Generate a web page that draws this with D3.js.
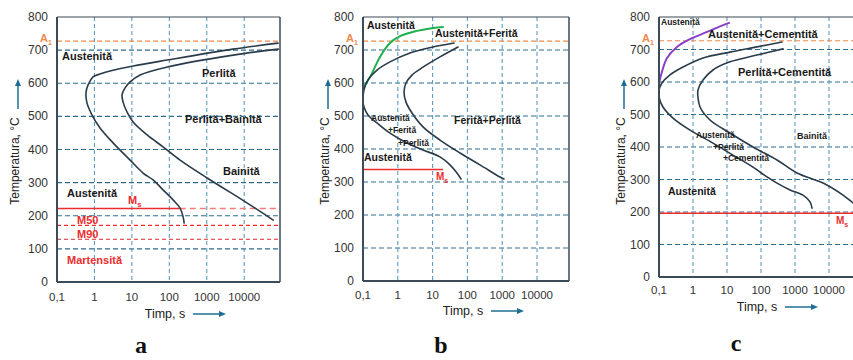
<!DOCTYPE html>
<html><head><meta charset="utf-8">
<script src="https://cdn.jsdelivr.net/npm/d3@7"></script>
<style>body{margin:0;background:#fff}svg{display:block}</style>
</head><body>
<svg id="c" width="853" height="360"></svg>
<script>
// ---------- DATA ----------
const timeTicks = [0.1, 1, 10, 100, 1000, 10000];
const timeTickLabels = ["0,1", "1", "10", "100", "1000", "10000"];
const tempTicks = [0, 100, 200, 300, 400, 500, 600, 700, 800];
const gridTemps = [100, 200, 300, 400, 500, 600, 700];
const gridTimes = [1, 10, 100, 1000, 10000];
const A1 = 727;

// panel a (eutectoid steel)
const aStartTime = [80000, 5000, 87, 10.8, 2.6, 1.41, 0.92, 0.675, 0.595, 0.634, 0.863, 1.41, 3.14, 8.95, 19.9, 36.9, 68, 126, 194, 234, 249];
const aStartTemp = [721, 703, 670, 652, 637, 628, 619, 595, 571, 540, 504, 465, 420, 368, 329, 308, 278, 248, 223, 196, 178];
const aEndTime = [81000, 5080, 87, 16.6, 8.95, 6.58, 5.47, 5.82, 7.44, 10.8, 25.5, 68, 194, 1025, 8850, 23700, 59600];
const aEndTemp = [703, 685, 649, 625, 604, 586, 565, 543, 513, 483, 444, 408, 368, 314, 248, 217, 187];
const aMs = 222, aM50 = 171, aM90 = 129, aMsSolidEnd = 190;

// panel b (hypoeutectoid steel)
const bFerriteTime = [0.1, 0.159, 0.308, 0.597, 1.16, 3.56, 10.3, 19.9];
const bFerriteTemp = [585, 618, 679, 721, 742, 758, 767, 770];
const bStartTime = [41.2, 10.3, 2.24, 0.597, 0.252, 0.139, 0.107, 0.1, 0.107, 0.139, 0.252, 0.597, 1.84, 5.3, 16.3, 31.6, 50.2, 65.5];
const bStartTemp = [721, 709, 691, 664, 639, 609, 579, 548, 527, 503, 479, 448, 418, 397, 376, 352, 327, 309];
const bEndTime = [53.7, 16.3, 5.3, 2.56, 1.72, 1.51, 1.72, 2.56, 5.3, 16.3, 61.3, 230, 865, 1127];
const bEndTemp = [709, 679, 648, 624, 600, 573, 542, 509, 467, 427, 388, 352, 315, 309];
const bMs = 338, bMsEnd = 20;

// panel c (hypereutectoid steel)
const cCementiteTime = [0.1, 0.122, 0.172, 0.338, 0.817, 2.58, 7.63, 11.5];
const cCementiteTemp = [597, 631, 674, 708, 732, 754, 775, 782];
const cStartTime = [415, 76.2, 12.2, 1.97, 0.508, 0.211, 0.122, 0.1, 0.1, 0.131, 0.258, 0.817, 3.87, 15, 58.2, 150, 296, 713, 1718, 2760, 3160];
const cStartTemp = [723, 708, 692, 674, 646, 622, 597, 575, 554, 523, 489, 452, 412, 375, 338, 308, 289, 268, 252, 231, 212];
const cEndTime = [444, 76.2, 12.2, 3.87, 1.97, 1.4, 1.4, 1.61, 3.16, 12.2, 58.2, 296, 1145, 6670, 25800, 50800, 160000];
const cEndTemp = [702, 683, 662, 637, 606, 575, 554, 523, 483, 443, 400, 360, 320, 289, 252, 228, 190];
const cMs = 196;

// ---------- DRAW ----------
const svg = d3.select("#c");
const C = {
  axis: "#3b4b57", curve: "#2a3b4a", gridH: "#2f6d8f", gridV: "#5f9cc0",
  red: "#ee2c2c", redLight: "#f37b7b", orange: "#f08a4b", green: "#1fb14e", purple: "#8b3fc8",
  tick: "#333", arrow: "#1f6f93"
};
const FONT = "'Liberation Sans', Arial, sans-serif";

function zip(ts, Ts) { return ts.map((t, i) => [t, Ts[i]]); }

function panel(cfg) {
  const g = svg.append("g");
  const x = d3.scaleLog().domain([0.1, 10000]).range([cfg.left, cfg.x4]);
  const y = d3.scaleLinear().domain([0, 800]).range([cfg.bottom, cfg.top]);
  const clipId = "clip" + cfg.id;
  svg.append("clipPath").attr("id", clipId).append("rect")
    .attr("x", cfg.left).attr("y", cfg.top).attr("width", cfg.right - cfg.left).attr("height", cfg.bottom - cfg.top);

  // grid
  g.selectAll(".gh").data(gridTemps).join("line")
    .attr("x1", cfg.left).attr("x2", cfg.right).attr("y1", d => y(d)).attr("y2", d => y(d))
    .attr("stroke", C.gridH).attr("stroke-width", 1.1).attr("stroke-dasharray", "5,3");
  g.selectAll(".gv").data(gridTimes).join("line")
    .attr("x1", d => x(d)).attr("x2", d => x(d)).attr("y1", cfg.top).attr("y2", cfg.bottom)
    .attr("stroke", C.gridV).attr("stroke-width", 1.1).attr("stroke-dasharray", "4,3");

  // A1
  g.append("line").attr("x1", cfg.left).attr("x2", cfg.right).attr("y1", y(A1)).attr("y2", y(A1))
    .attr("stroke", C.orange).attr("stroke-width", 1.2).attr("stroke-dasharray", "5,3");
  const a1 = g.append("text").attr("x", cfg.left - 17).attr("y", y(A1) + 1)
    .attr("font-family", FONT).attr("font-weight", "bold").attr("font-size", 11).attr("fill", C.orange);
  a1.append("tspan").text("A");
  a1.append("tspan").attr("font-size", 7).attr("dy", 3).text("1");

  const cl = g.append("g").attr("clip-path", `url(#${clipId})`);
  const line = d3.line().x(d => x(d[0])).y(d => y(d[1])).curve(d3.curveCatmullRom.alpha(0.5));
  cfg.draw(cl, x, y, line);

  // axes / frame
  const axisG = g.append("g");
  axisG.append("line").attr("x1", cfg.left).attr("x2", cfg.left).attr("y1", cfg.top).attr("y2", cfg.bottom);
  axisG.append("line").attr("x1", cfg.left).attr("x2", cfg.right).attr("y1", cfg.bottom).attr("y2", cfg.bottom);
  axisG.append("line").attr("x1", cfg.left).attr("x2", cfg.right).attr("y1", cfg.top).attr("y2", cfg.top).attr("stroke-width", 1.2);
  axisG.append("line").attr("x1", cfg.right).attr("x2", cfg.right).attr("y1", cfg.top).attr("y2", cfg.bottom).attr("stroke-width", 1.5);
  axisG.selectAll("line").attr("stroke", C.axis).filter(function(){return !this.getAttribute("stroke-width");}).attr("stroke-width", 2);

  // tick labels
  g.selectAll(".yt").data(tempTicks).join("text")
    .attr("x", cfg.left - 9).attr("y", d => y(d) + 4).attr("text-anchor", "end")
    .attr("font-family", FONT).attr("font-size", 12).attr("fill", C.tick).text(d => d);
  g.selectAll(".xt").data(timeTicks).join("text")
    .attr("x", d => x(d)).attr("y", cfg.xTickY).attr("text-anchor", "middle")
    .attr("font-family", FONT).attr("font-size", 11.5).attr("fill", C.tick)
    .text((d, i) => timeTickLabels[i]);

  // axis titles
  g.append("text").attr("transform", `translate(${cfg.yTitleX},161) rotate(-90)`)
    .attr("text-anchor", "middle").attr("font-family", FONT).attr("font-size", 12).attr("fill", "#222")
    .text("Temperatura, °C");
  g.append("line").attr("x1", cfg.yTitleX - 1).attr("x2", cfg.yTitleX - 1).attr("y1", 109).attr("y2", 84)
    .attr("stroke", C.arrow).attr("stroke-width", 1.5);
  g.append("path").attr("d", `M${cfg.yTitleX - 4},86 L${cfg.yTitleX - 1},79 L${cfg.yTitleX + 2},86 Z`).attr("fill", C.arrow);

  g.append("text").attr("x", cfg.xTitleX).attr("y", cfg.xTitleY).attr("text-anchor", "middle")
    .attr("font-family", FONT).attr("font-size", 12.5).attr("fill", "#222").text("Timp, s");
  const ax0 = cfg.xTitleX + 28, ax1 = ax0 + 32, ay = cfg.xTitleY - 4;
  g.append("line").attr("x1", ax0).attr("x2", ax1 - 4).attr("y1", ay).attr("y2", ay).attr("stroke", C.arrow).attr("stroke-width", 1.5);
  g.append("path").attr("d", `M${ax1 - 6},${ay - 3} L${ax1 + 1},${ay} L${ax1 - 6},${ay + 3} Z`).attr("fill", C.arrow);

  // panel letter
  g.append("text").attr("x", cfg.letterX).attr("y", cfg.letterY).attr("text-anchor", "middle")
    .attr("font-family", "'Liberation Serif', 'Times New Roman', serif").attr("font-weight", "bold")
    .attr("font-size", 24).attr("fill", "#111").text(cfg.letter);

  // labels
  cfg.labels.forEach(l => {
    const t = g.append("text").attr("x", l.x).attr("y", l.y).attr("font-family", FONT)
      .attr("font-weight", "bold").attr("font-size", l.s).attr("fill", l.c || "#1a1a1a");
    if (l.sub) {
      t.append("tspan").text(l.t);
      t.append("tspan").attr("font-size", l.s * 0.7).attr("dy", 3).text(l.sub);
    } else t.text(l.t);
  });
  return { x, y };
}

function curve(sel, line, pts, color, w) {
  sel.append("path").attr("d", line(pts)).attr("fill", "none").attr("stroke", color)
    .attr("stroke-width", w || 1.6).attr("stroke-linecap", "round");
}

// Panel a
panel({
  id: "a", left: 57, x4: 244.2, right: 280, top: 17, bottom: 282,
  xTickY: 301, yTitleX: 19, xTitleX: 165, xTitleY: 318, letterX: 141, letterY: 353, letter: "a",
  draw: (g, x, y, line) => {
    g.append("line").attr("x1", x(0.1)).attr("x2", x(aMsSolidEnd)).attr("y1", y(aMs)).attr("y2", y(aMs))
      .attr("stroke", C.red).attr("stroke-width", 1.4);
    g.append("line").attr("x1", x(aMsSolidEnd)).attr("x2", 280).attr("y1", y(aMs)).attr("y2", y(aMs))
      .attr("stroke", C.redLight).attr("stroke-width", 1.4).attr("stroke-dasharray", "6,4");
    g.append("line").attr("x1", x(0.1)).attr("x2", 280).attr("y1", y(aM50)).attr("y2", y(aM50))
      .attr("stroke", C.red).attr("stroke-width", 1.2).attr("stroke-dasharray", "4,3");
    g.append("line").attr("x1", x(0.1)).attr("x2", 280).attr("y1", y(aM90)).attr("y2", y(aM90))
      .attr("stroke", "#d8262b").attr("stroke-width", 1.2).attr("stroke-dasharray", "4,3");
    curve(g, line, zip(aStartTime, aStartTemp), C.curve);
    curve(g, line, zip(aEndTime, aEndTemp), C.curve);
  },
  labels: [
    { t: "Austenită", x: 62, y: 60, s: 11 },
    { t: "Perlită", x: 202, y: 77, s: 11 },
    { t: "Perlită+Bainită", x: 185, y: 123, s: 11 },
    { t: "Bainită", x: 223, y: 175, s: 11 },
    { t: "Austenită", x: 67, y: 197, s: 11 },
    { t: "M", sub: "s", x: 128, y: 204, s: 11, c: C.red },
    { t: "M50", x: 77, y: 224, s: 11, c: C.red },
    { t: "M90", x: 77, y: 238, s: 11, c: C.red },
    { t: "Martensită", x: 67, y: 264, s: 11, c: C.red }
  ]
});

// Panel b
panel({
  id: "b", left: 363, x4: 537, right: 569, top: 17, bottom: 281,
  xTickY: 299, yTitleX: 329, xTitleX: 463, xTitleY: 315, letterX: 441, letterY: 353, letter: "b",
  draw: (g, x, y, line) => {
    g.append("line").attr("x1", x(0.1)).attr("x2", x(bMsEnd)).attr("y1", y(bMs)).attr("y2", y(bMs))
      .attr("stroke", C.red).attr("stroke-width", 1.4);
    curve(g, line, zip(bFerriteTime, bFerriteTemp), C.green, 2);
    curve(g, line, zip(bStartTime, bStartTemp), C.curve);
    curve(g, line, zip(bEndTime, bEndTemp), C.curve);
  },
  labels: [
    { t: "Austenită", x: 367, y: 29, s: 10.5 },
    { t: "Austenită+Ferită", x: 435, y: 37, s: 10.5 },
    { t: "Ferită+Perlită", x: 454, y: 124, s: 10.5 },
    { t: "Austenită", x: 371, y: 121, s: 8.5 },
    { t: "+Ferită", x: 388, y: 133, s: 8.5 },
    { t: "+Perlită", x: 398, y: 146, s: 8.5 },
    { t: "Austenită", x: 364, y: 161, s: 10.5 },
    { t: "M", sub: "s", x: 436, y: 180, s: 10, c: C.red }
  ]
});

// Panel c
panel({
  id: "c", left: 659, x4: 829, right: 900, top: 17, bottom: 277,
  xTickY: 294, yTitleX: 625, xTitleX: 757, xTitleY: 311, letterX: 736, letterY: 351, letter: "c",
  draw: (g, x, y, line) => {
    g.append("line").attr("x1", x(0.1)).attr("x2", 900).attr("y1", y(cMs)).attr("y2", y(cMs))
      .attr("stroke", C.red).attr("stroke-width", 1.4);
    curve(g, line, zip(cCementiteTime, cCementiteTemp), C.purple, 2);
    curve(g, line, zip(cStartTime, cStartTemp), C.curve);
    curve(g, line, zip(cEndTime, cEndTemp), C.curve);
  },
  labels: [
    { t: "Austenită", x: 661, y: 25, s: 8.5 },
    { t: "Austenită+Cementită", x: 708, y: 38, s: 11 },
    { t: "Perlită+Cementită", x: 738, y: 76, s: 11 },
    { t: "Austenită", x: 696, y: 138, s: 8.5 },
    { t: "+Perlită", x: 713, y: 150, s: 8.5 },
    { t: "+Cementită", x: 723, y: 161, s: 8.5 },
    { t: "Bainită", x: 797, y: 139, s: 9 },
    { t: "Austenită", x: 668, y: 195, s: 10.5 },
    { t: "M", sub: "s", x: 836, y: 224, s: 10, c: C.red }
  ]
});
</script>
</body></html>
